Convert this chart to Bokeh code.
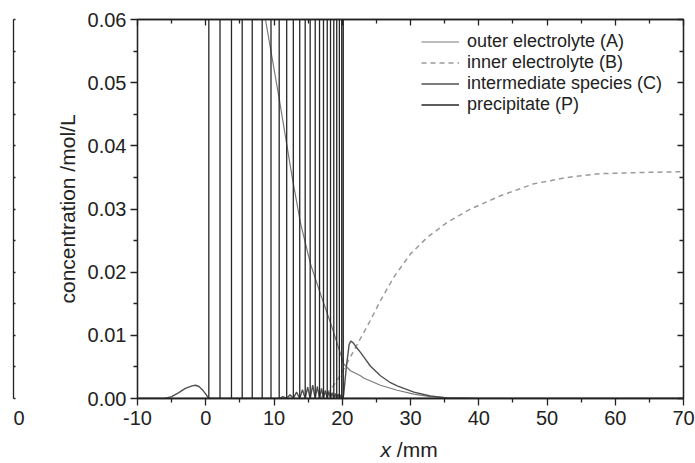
from bokeh.plotting import figure
from bokeh.models import (Range1d, LinearAxis, FixedTicker, NumeralTickFormatter,
                          CustomJSTickFormatter)
from bokeh.layouts import row, column
from bokeh.core.properties import value
from bokeh.embed import file_html
from bokeh.resources import INLINE

FONT = "Liberation Sans"
INK = "#222222"

# ---------------- data ----------------
x_ticks = [-10, 0, 10, 20, 30, 40, 50, 60, 70]
x_minor = [-5, 5, 15, 25, 35, 45, 55, 65]
y_ticks = [0.00, 0.01, 0.02, 0.03, 0.04, 0.05, 0.06]
y_minor = [0.005, 0.015, 0.025, 0.035, 0.045, 0.055]
remnant_label = "0"          # visible part of the neighbouring panel's last tick label

# outer electrolyte (A)
a_x = [-10, 0, 5, 8.75, 10.8, 12.7, 13.9, 15.35, 16.8, 18.28, 19.74, 20.2, 21.2,
       22.67, 23.2, 25.6, 28.05, 30.5, 32.9, 35.4, 40, 50, 70]
a_y = [0.17, 0.111, 0.082, 0.060, 0.0472, 0.0348, 0.0277, 0.0213, 0.0166, 0.0120,
       0.0071, 0.0055, 0.0044, 0.0036, 0.0032, 0.0021, 0.0013, 0.0007, 0.0003,
       0.0001, 0.0, 0.0, 0.0]

# inner electrolyte (B)
b_x = [16.5, 17.5, 18.5, 19.5, 20.5, 21.5, 22.67, 24.14, 25.6, 27.55, 30.0, 32.45,
       35.4, 38.8, 43.2, 48.1, 53.0, 57.8, 64.7, 70]
b_y = [0.0, 0.0006, 0.0017, 0.0033, 0.0052, 0.0072, 0.0095, 0.0124, 0.0155, 0.0192,
       0.0229, 0.0255, 0.0279, 0.0300, 0.0321, 0.0340, 0.0350, 0.0356, 0.0358, 0.0359]

# intermediate species (C)
c_x = [-10, -6, -5, -4, -3, -2, -1.5, -1, -0.5, 0, 0.45, 10.2, 10.76, 11.3, 11.86,
       12.35, 12.83, 13.3, 13.77, 14.17, 14.57, 14.93, 15.30, 15.67, 16.04, 16.35,
       16.67, 16.96, 17.25, 17.52, 17.80, 18.04, 18.28, 18.52, 18.76, 18.97, 19.19,
       19.38, 19.58, 19.75, 19.92, 20.2, 20.6, 21.0, 21.25, 21.6, 22.0, 22.67, 23.2,
       24.14, 25.6, 27.07, 28.05, 30.5, 32.9, 35.4, 40, 70]
c_y = [0, 0, 0.0003, 0.0009, 0.0016, 0.0020, 0.0021, 0.0019, 0.0014, 0.0007, 0, 0,
       0, 0.0003, 0, 0.0006, 0, 0.0010, 0, 0.0014, 0, 0.0018, 0, 0.0021, 0, 0.0019,
       0, 0.0016, 0, 0.0013, 0, 0.0011, 0, 0.0009, 0, 0.0008, 0, 0.0007, 0, 0.0006,
       0, 0.0005, 0.0050, 0.0085, 0.0091, 0.0088, 0.0082, 0.0073, 0.0065, 0.0051,
       0.0036, 0.0025, 0.0020, 0.0010, 0.0004, 0.0001, 0, 0]

# precipitate (P): band positions (mm); peaks go far off the top of the scale
band_x = [0.45, 2.09, 3.77, 5.34, 6.81, 8.27, 9.56, 10.76, 11.86, 12.83, 13.77,
          14.57, 15.30, 16.04, 16.67, 17.25, 17.80, 18.28, 18.76, 19.19, 19.58,
          19.92, 20.15]
band_peak = 0.5

p_x = [-10.0]
p_y = [0.0]
for xb in band_x:
    p_x += [xb, xb, xb]
    p_y += [0.0, band_peak, 0.0]
p_x.append(70.0)
p_y.append(0.0)

# ---------------- shared ranges ----------------
XR = Range1d(-10, 70)
YR = Range1d(0, 0.06)
TOP, BOTTOM = 19, 40


def style_axis(ax, tin, tout, mtin, mtout):
    ax.axis_line_color = INK
    ax.axis_line_width = 1.3
    ax.major_tick_line_color = INK
    ax.minor_tick_line_color = INK
    ax.major_tick_line_width = 1.3
    ax.minor_tick_line_width = 1.3
    ax.major_tick_in = tin
    ax.major_tick_out = tout
    ax.minor_tick_in = mtin
    ax.minor_tick_out = mtout


# ---------------- main figure ----------------
p = figure(width=665, height=438, x_range=XR, y_range=YR,
           output_backend="svg", toolbar_location=None,
           min_border_left=107, min_border_right=12, min_border_top=TOP,
           min_border_bottom=BOTTOM)
p.grid.visible = False
p.outline_line_color = INK
p.outline_line_width = 1.3
p.background_fill_color = "white"
p.border_fill_color = "white"

xt = FixedTicker(ticks=x_ticks, minor_ticks=x_minor)
yt = FixedTicker(ticks=y_ticks, minor_ticks=y_minor)

xa = p.xaxis[0]
xa.ticker = xt
xa.formatter = NumeralTickFormatter(format="0")
ya = p.yaxis[0]
ya.ticker = yt
ya.formatter = NumeralTickFormatter(format="0.00")

for ax in (xa, ya):
    style_axis(ax, 0, 7, 0, 4)
    ax.major_label_text_font = FONT
    ax.major_label_text_font_size = "20px"
    ax.major_label_text_color = INK

xa.major_label_standoff = 5
ya.major_label_standoff = 4
ya.axis_label = "concentration /mol/L"
ya.axis_label_text_font = FONT
ya.axis_label_text_font_size = "21px"
ya.axis_label_text_font_style = "normal"
ya.axis_label_text_color = INK
ya.axis_label_standoff = 6

blank = CustomJSTickFormatter(code="return ''")
for loc, tk in (("above", xt), ("right", yt)):
    ax = LinearAxis(ticker=tk, formatter=blank)
    style_axis(ax, 6, 0, 4, 0)
    ax.major_label_standoff = 0
    p.add_layout(ax, loc)

p.line(a_x, a_y, line_color="#7a7a7a", line_width=1.2,
       legend_label="outer electrolyte (A)")
p.line(b_x, b_y, line_color="#9a9a9a", line_width=1.5, line_dash="5 4",
       legend_label="inner electrolyte (B)")
p.line(c_x, c_y, line_color="#505050", line_width=1.4,
       legend_label="intermediate species (C)")
p.line(p_x, p_y, line_color="#262626", line_width=1.3,
       legend_label="precipitate (P)")

lg = p.legend[0]
lg.location = (284, 283)
lg.border_line_color = None
lg.background_fill_alpha = 0
lg.label_text_font = FONT
lg.label_text_font_size = "18px"
lg.label_text_color = INK
lg.glyph_width = 38
lg.glyph_height = 21
lg.label_height = 21
lg.label_standoff = 8
lg.spacing = 0
lg.padding = 6
lg.margin = 0

# ---------------- remnant of the neighbouring panel (far left) ----------------
left = figure(width=30, height=438, x_range=Range1d(0, 1), y_range=YR,
              output_backend="svg", toolbar_location=None,
              min_border_left=13, min_border_right=0, min_border_top=TOP,
              min_border_bottom=BOTTOM)
left.grid.visible = False
left.outline_line_color = None
la = left.yaxis[0]
la.ticker = yt
la.formatter = blank
style_axis(la, 2, 0, 2, 0)
la.major_label_standoff = 0
lx = left.xaxis[0]
lx.ticker = FixedTicker(ticks=[0.32])
lx.major_label_overrides = {0.32: remnant_label}
lx.axis_line_color = None
lx.major_tick_line_color = None
lx.minor_tick_line_color = None
lx.major_tick_out = 7
lx.major_tick_in = 0
lx.major_label_standoff = 5
lx.major_label_text_font = FONT
lx.major_label_text_font_size = "20px"
lx.major_label_text_color = INK

# ---------------- x axis title (italic x) ----------------
tfig = figure(width=695, height=25, x_range=XR, y_range=Range1d(0, 1),
              output_backend="svg", toolbar_location=None,
              min_border_left=137, min_border_right=12, min_border_top=0,
              min_border_bottom=0, x_axis_location=None, y_axis_location=None)
tfig.grid.visible = False
tfig.outline_line_color = None
tfig.text(x=[25.6], y=[0.55], text=["x"], text_font=value(FONT),
          text_font_style="italic", text_font_size="21px", text_color=INK,
          text_baseline="alphabetic", text_align="left")
tfig.text(x=[28.0], y=[0.55], text=["/mm"], text_font=value(FONT),
          text_font_size="21px", text_color=INK,
          text_baseline="alphabetic", text_align="left")

layout = column(row(left, p, spacing=0), tfig, spacing=0)
open("out.html", "w").write(file_html(layout, INLINE))
